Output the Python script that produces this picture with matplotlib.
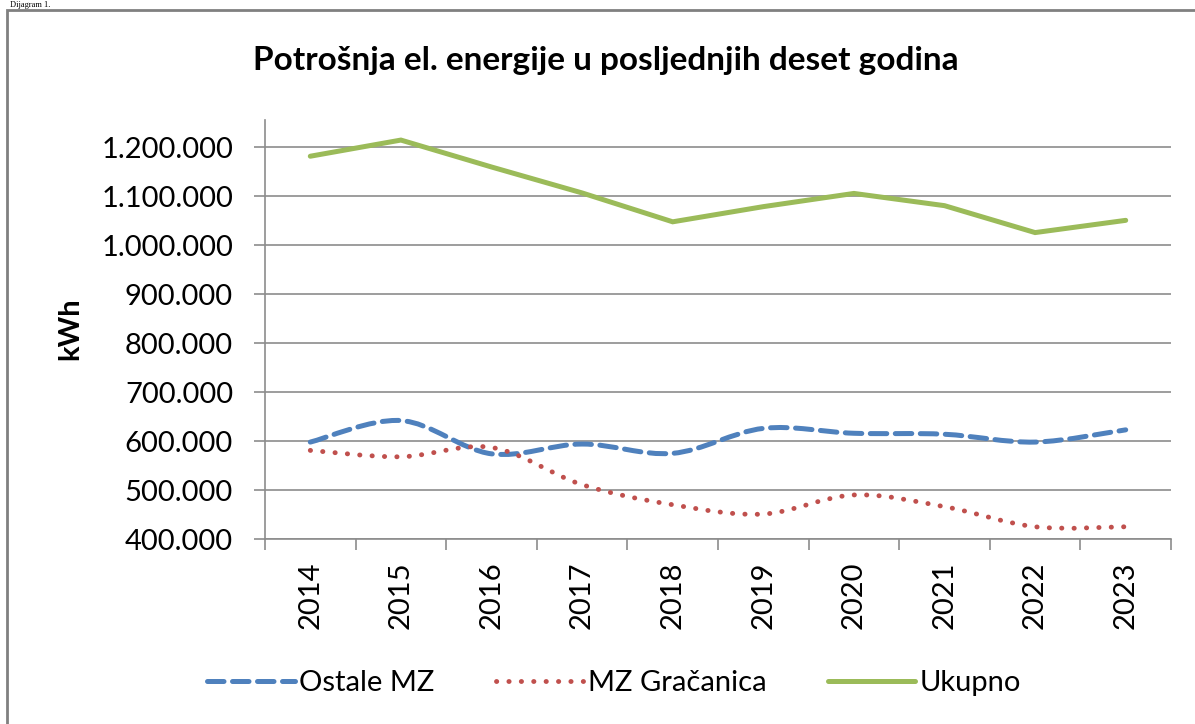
import matplotlib
matplotlib.use("Agg")
import matplotlib.pyplot as plt
from matplotlib.path import Path
from matplotlib.patches import PathPatch, Rectangle
from matplotlib.lines import Line2D
from matplotlib.ticker import FuncFormatter, FixedLocator

# values (kWh)
years = ["2014", "2015", "2016", "2017", "2018", "2019", "2020", "2021", "2022", "2023"]
ostale_mz = [598000, 642000, 574000, 594000, 575000, 626000, 616000, 614000, 598000, 623000]
mz_gracanica = [581000, 568000, 587000, 511000, 470000, 451000, 490000, 466000, 425000, 425000]
ukupno = [1182000, 1215000, 1160000, 1107000, 1048000, 1079000, 1106000, 1081000, 1026000, 1051000]
y_ticks = [400000, 500000, 600000, 700000, 800000, 900000, 1000000, 1100000, 1200000]

W, H = 1195, 724
BLUE, RED, GREEN = "#4F81BD", "#C0504D", "#9BBB59"
GRID = "#8C8C8C"
FONT = "Lato"

plt.rcParams["font.family"] = [FONT, "DejaVu Sans"]


def smooth_path(xs, ys):
    """Excel-like smoothed line as cubic bezier path through the points."""
    pts = list(zip(xs, ys))
    n = len(pts)
    verts, codes = [pts[0]], [Path.MOVETO]
    for i in range(n - 1):
        p0 = pts[i - 1] if i > 0 else pts[i]
        p1, p2 = pts[i], pts[i + 1]
        p3 = pts[i + 2] if i + 2 < n else pts[i + 1]
        c1 = (p1[0] + (p2[0] - p0[0]) / 6, p1[1] + (p2[1] - p0[1]) / 6)
        c2 = (p2[0] - (p3[0] - p1[0]) / 6, p2[1] - (p3[1] - p1[1]) / 6)
        verts += [c1, c2, p2]
        codes += [Path.CURVE4] * 3
    return Path(verts, codes)


fig = plt.figure(figsize=(W / 100, H / 100), dpi=100)
ax = fig.add_axes([265 / W, 1 - 539 / H, (1171 - 265) / W, (539 - 120) / H])

x = list(range(len(years)))
blue_dash = (0, (3.3, 1.7))
red_dot = (0, (0.05, 2.5))

ax.add_patch(PathPatch(smooth_path(x, ostale_mz), fill=False, edgecolor=BLUE,
                       lw=3.6, linestyle=blue_dash, capstyle="round", zorder=3))
ax.add_patch(PathPatch(smooth_path(x, mz_gracanica), fill=False, edgecolor=RED,
                       lw=3.5, linestyle=red_dot, capstyle="round", zorder=3))
ax.plot(x, ukupno, color=GREEN, lw=3.6, solid_capstyle="round",
        solid_joinstyle="miter", zorder=4)

ax.set_xlim(-0.5, len(years) - 0.5)
ax.set_ylim(400000, 1256000)
ax.set_yticks(y_ticks)
ax.yaxis.set_major_formatter(FuncFormatter(lambda v, p: f"{int(v):,}".replace(",", ".")))
ax.set_xticks(x)
ax.set_xticklabels(years, rotation=90)
ax.xaxis.set_minor_locator(FixedLocator([i - 0.5 for i in range(len(years) + 1)]))
ax.tick_params(axis="x", which="major", length=0, pad=16, labelsize=21)
ax.tick_params(axis="x", which="minor", length=8, width=1.2, color=GRID, direction="out")
ax.tick_params(axis="y", length=8, width=1.2, color=GRID, pad=15, labelsize=21)

ax.grid(axis="y", color=GRID, lw=1.2)
ax.set_axisbelow(True)
for side in ("top", "right"):
    ax.spines[side].set_visible(False)
for side in ("left", "bottom"):
    ax.spines[side].set_color(GRID)
    ax.spines[side].set_linewidth(1.2)

fig.text(606 / W, 1 - 70 / H, "Potrošnja el. energije u posljednjih deset godina",
         ha="center", va="baseline", fontsize=24, fontweight="bold")
fig.text(70 / W, 1 - 329 / H, "kWh", rotation=90, ha="center", va="center",
         fontsize=21, fontweight="bold")

handles = [
    Line2D([], [], color=BLUE, lw=3.6, linestyle=blue_dash, dash_capstyle="round"),
    Line2D([], [], color=RED, lw=3.5, linestyle=red_dot, dash_capstyle="round"),
    Line2D([], [], color=GREEN, lw=3.6, solid_capstyle="round"),
]
fig.legend(handles, ["Ostale MZ", "MZ Gračanica", "Ukupno"], loc="center",
           bbox_to_anchor=(614 / W, 1 - 683 / H), ncol=3, frameon=False,
           fontsize=21, handlelength=3.0, handletextpad=0.15, columnspacing=2.1)

# chart border and the small caption above it
fig.add_artist(Rectangle((7 / W, -0.1), 1.2, 1.1 - 10 / H, transform=fig.transFigure,
                         fill=False, edgecolor="#808080", lw=2, clip_on=False))
fig.text(10 / W, 1 - 7 / H, "Dijagram 1.", family="Liberation Serif", fontsize=6,
         va="baseline")

fig.savefig("out.png", dpi=100)
